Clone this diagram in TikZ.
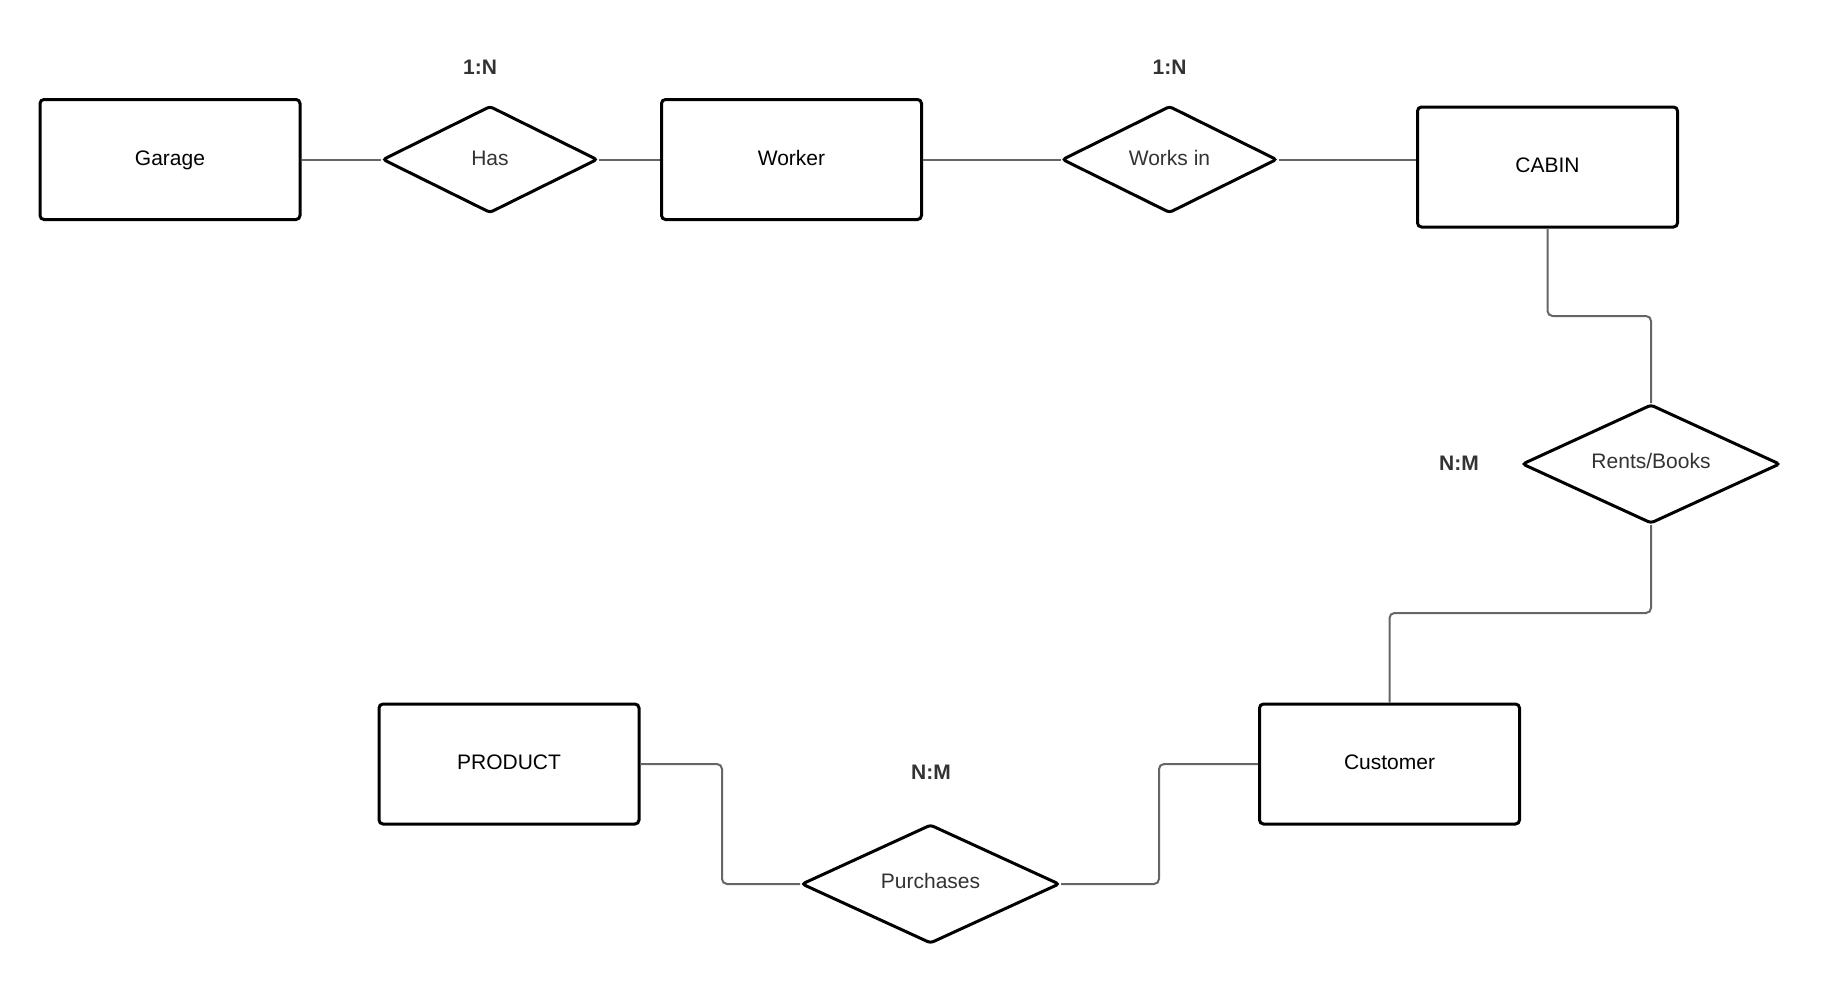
\documentclass[tikz,border=0pt]{standalone}
\usepackage{fontspec}
\setmainfont{Liberation Sans}
\usetikzlibrary{shapes.geometric}
\definecolor{linkgray}{HTML}{666666}
\definecolor{reltext}{HTML}{333333}
\begin{document}
\begin{tikzpicture}[x=1pt,y=-1pt,
  entity/.style={draw=black, line width=3pt, rounded corners=4pt, fill=white,
    minimum width=260pt, minimum height=120pt, inner sep=0pt,
    text height=15pt, text depth=4pt,
    font=\fontsize{21}{24}\selectfont, text=black},
  relation/.style={draw=black, line width=3pt, diamond, aspect=2.5, rounded corners=3pt, fill=white,
    inner sep=0pt, text height=15pt, text depth=7pt,
    font=\fontsize{21}{24}\selectfont, text=reltext},
  smallrel/.style={relation, minimum width=215pt, minimum height=107pt, text depth=4pt},
  bigrel/.style={relation, minimum width=258pt, minimum height=119pt},
  card/.style={font=\bfseries\fontsize{21}{24}\selectfont, text=reltext},
  link/.style={draw=linkgray, line width=2pt, rounded corners=5pt}]
\useasboundingbox (0,0) rectangle (1823,985);
\fill[white] (0,0) rectangle (1823,985);

% entities
\node[entity] (garage)   at (170,159.5)   {Garage};
\node[entity] (worker)   at (791.5,159.5) {Worker};
\node[entity] (cabin)    at (1547.5,167)  {CABIN};
\node[entity] (customer) at (1389.5,764)  {Customer};
\node[entity] (product)  at (509,764)     {PRODUCT};

% relationships
\node[smallrel] (has)     at (490,159.5)    {Has};
\node[smallrel] (worksin) at (1169.5,159.5) {Works in};
\node[bigrel]   (rents)   at (1651,464)     {Rents/Books};
\node[bigrel]   (purch)   at (930.5,884)    {Purchases};

% cardinalities
\node[card] (c1) at (480,67)    {1:N};
\node[card] (c2) at (1169.5,67) {1:N};
\node[card] (c3) at (1459,463)  {N:M};
\node[card] (c4) at (931,772)   {N:M};

% connectors
\path[link] (garage.east) -- (has.west);
\path[link] (has.east) -- (worker.west);
\path[link] (worker.east) -- (worksin.west);
\path[link] (worksin.east) -- (cabin.west |- worksin.east);
\path[link] (cabin.south) |- (1599,316) -| (rents.north);
\path[link] (rents.south) |- (1520,613) -| (customer.north);
\path[link] (product.east) -| (722,824) |- (purch.west);
\path[link] (customer.west) -| (1159,824) |- (purch.east);
\end{tikzpicture}
\end{document}
